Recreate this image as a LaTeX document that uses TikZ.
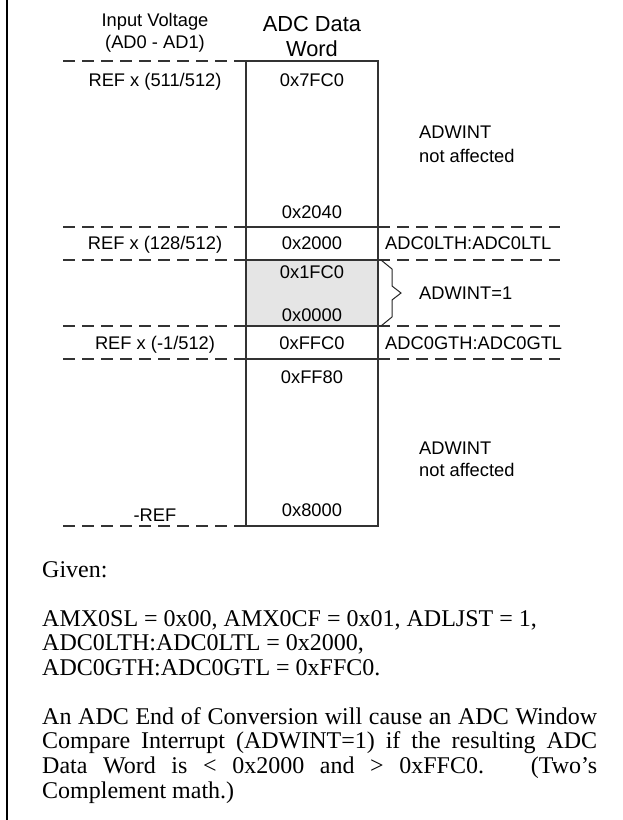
\documentclass[tikz,border=0pt]{standalone}
\usepackage{fontspec}
\setmainfont{Liberation Serif}
\newfontfamily\arialf{Liberation Sans}
\begin{document}
\begin{tikzpicture}[x=1pt,y=-1pt,
  lbl/.style={font=\arialf\fontsize{18.3}{22}\selectfont, inner sep=0pt, anchor=base},
  lblw/.style={lbl, anchor=base west},
  hdr/.style={font=\arialf\fontsize{21.8}{25}\selectfont, inner sep=0pt, anchor=base},
  dashline/.style={line width=1.3pt, dash pattern=on 12pt off 7pt, draw=black!80},
  boxline/.style={line width=1.1pt, draw=black!80},
  body/.style={font=\fontsize{24}{25}\selectfont, inner sep=0pt, anchor=base west}]
\useasboundingbox (0,0) rectangle (622,820);
\fill[white] (0,0) rectangle (622,820);
% left border
\draw[line width=2pt] (7,0) -- (7,820);
% shaded window region
\fill[black!10] (246,260) rectangle (378,326);
% dashed level lines, left side
\foreach \yy in {61,227,260,326,359,526}
  \draw[dashline] (63,\yy) -- (246,\yy);
% dashed level lines, right side
\foreach \yy in {227,260,326,359}
  \draw[dashline] (378,\yy) -- (560,\yy);
% data word column
\draw[boxline] (246,61) rectangle (378,526);
\foreach \yy in {227,326,359}
  \draw[boxline] (246,\yy) -- (378,\yy);
\draw[boxline, line width=2.2pt] (246,260) -- (378,260);
% brace
\draw[line width=1pt, black!85, line join=miter] (381,260) -- (392,269) -- (392,286) -- (401,293) -- (392,300) -- (392,317) -- (381,326);
% headers
\node[lbl] (hin1) at (155,26) {Input Voltage};
\node[lbl] (hin2) at (155,48) {(AD0 - AD1)};
\node[hdr] (hadc1) at (312,31) {ADC Data};
\node[hdr] (hadc2) at (312,56) {Word};
% left labels
\node[lbl] (l1) at (155,86) {REF x (511/512)};
\node[lbl] (l2) at (155,249) {REF x (128/512)};
\node[lbl] (l3) at (155,349) {REF x (-1/512)};
\node[lbl] (l4) at (155,521) {-REF};
% column values
\node[lbl] (v1) at (312,86) {0x7FC0};
\node[lbl] (v2) at (312,218) {0x2040};
\node[lbl] (v3) at (312,249) {0x2000};
\node[lbl] (v4) at (312,278) {0x1FC0};
\node[lbl] (v5) at (312,321) {0x0000};
\node[lbl] (v6) at (312,349) {0xFFC0};
\node[lbl] (v7) at (312,383) {0xFF80};
\node[lbl] (v8) at (312,516) {0x8000};
% right labels
\node[lblw] (r1) at (419,138) {ADWINT};
\node[lblw] (r2) at (419,162) {not affected};
\node[lblw] (r3) at (385,249) {ADC0LTH:ADC0LTL};
\node[lblw] (r4) at (419,299) {ADWINT=1};
\node[lblw] (r5) at (385,349) {ADC0GTH:ADC0GTL};
\node[lblw] (r6) at (419,454) {ADWINT};
\node[lblw] (r7) at (419,476) {not affected};
% body text
\node[body] (given) at (42,577) {Given:};
\node[body] (c1) at (42,626) {AMX0SL = 0x00, AMX0CF = 0x01, ADLJST = 1,};
\node[body] (c2) at (42,650) {ADC0LTH:ADC0LTL = 0x2000,};
\node[body] (c3) at (42,675) {ADC0GTH:ADC0GTL = 0xFFC0.};
\node[body] (p1) at (42,724) {\makebox[555pt][s]{An ADC End of Conversion will cause an ADC Window}};
\node[body] (p2) at (42,748) {\makebox[555pt][s]{Compare Interrupt (ADWINT=1) if the resulting ADC}};
\node[body] (p3) at (42,773) {\makebox[555pt][s]{Data Word is < 0x2000 and > 0xFFC0.\ \ \ (Two’s}};
\node[body] (p4) at (42,798) {Complement math.)};
\end{tikzpicture}
\end{document}
